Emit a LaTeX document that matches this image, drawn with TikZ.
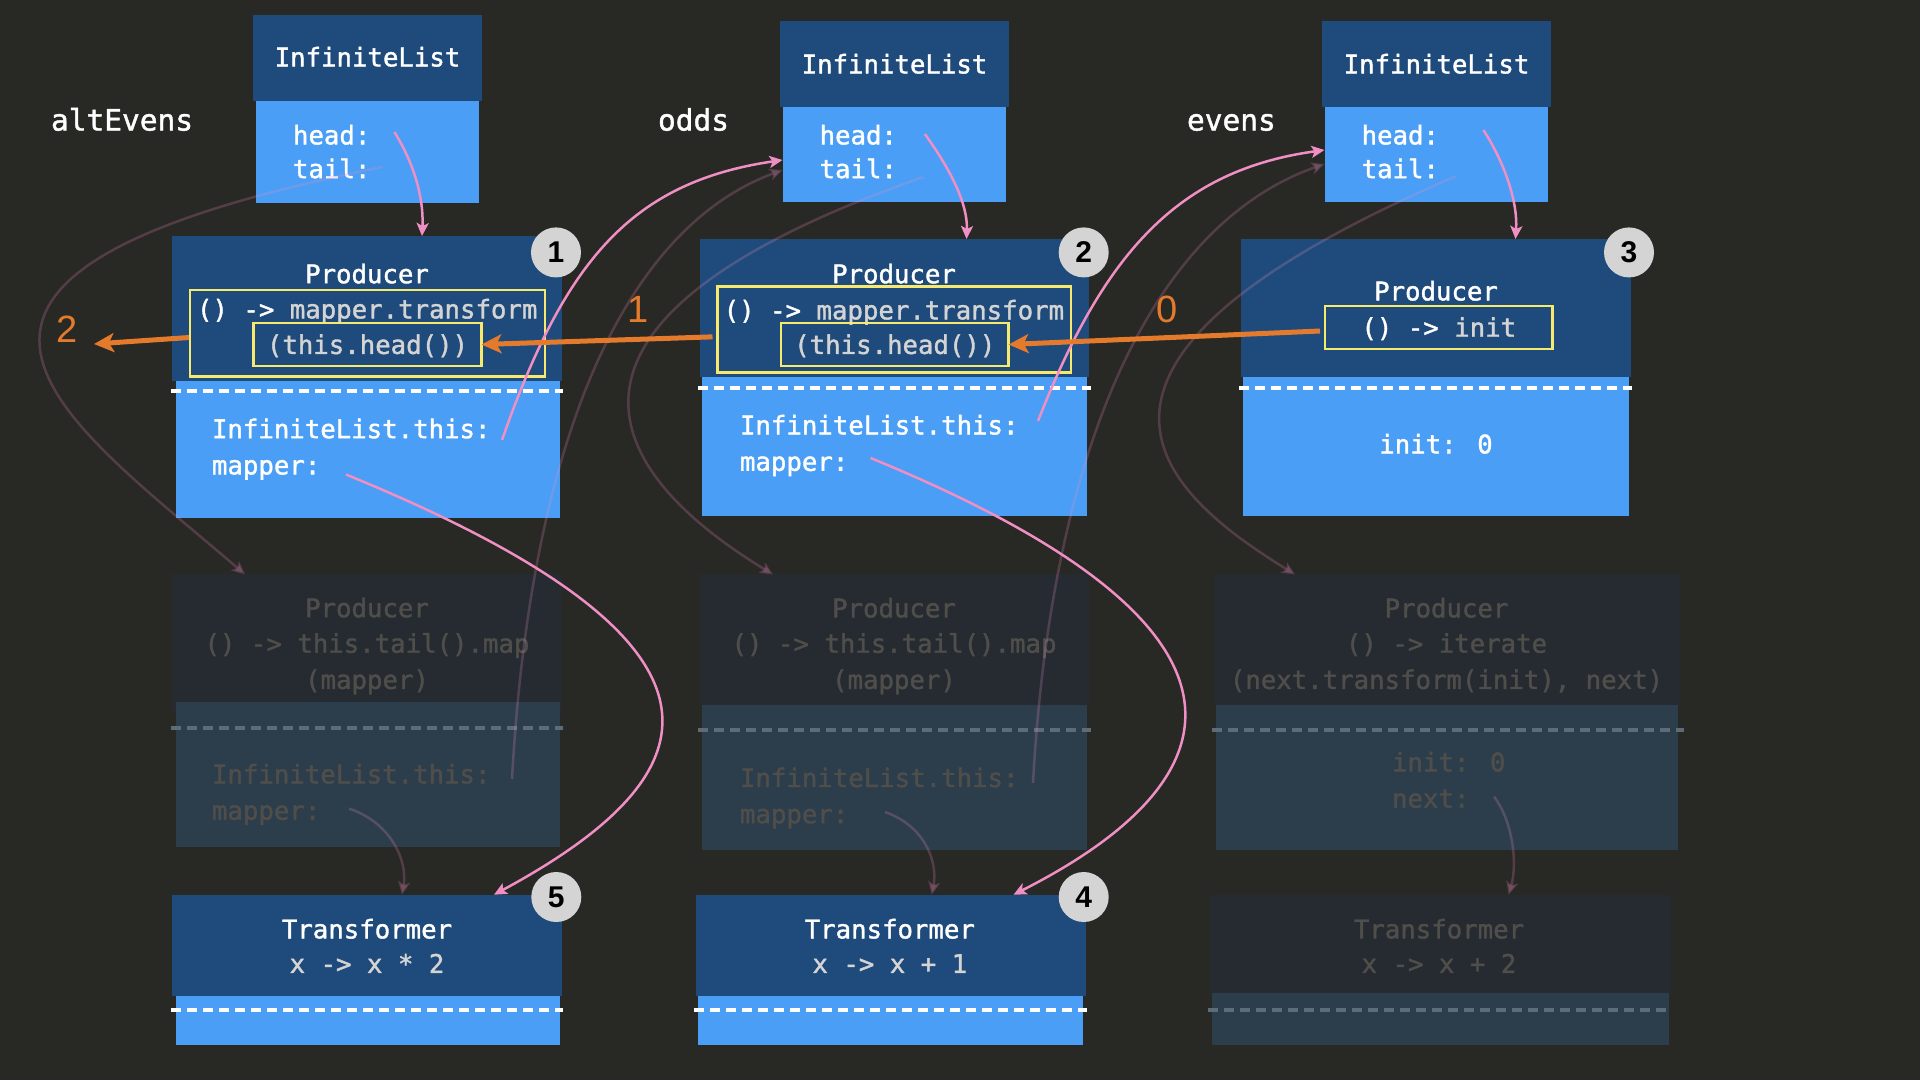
\documentclass[tikz,border=0pt]{standalone}
\usepackage{fontspec}
\setmainfont{DejaVu Sans Mono}[FakeBold=1.4]
\setmonofont{DejaVu Sans Mono}
\newfontfamily\digitfont{Liberation Sans}
\usetikzlibrary{arrows.meta,calc}
\definecolor{bg}{HTML}{282824}
\definecolor{dkblue}{HTML}{1E4B7B}
\definecolor{ltblue}{HTML}{4A9EF5}
\definecolor{yel}{HTML}{F6E96E}
\definecolor{oran}{HTML}{E47A2C}
\definecolor{pnk}{HTML}{EF8FC4}
\definecolor{codegrey}{HTML}{D4D4D4}
\definecolor{gdark}{HTML}{252B31}
\definecolor{glight}{HTML}{2C3D4B}
\definecolor{gtext}{HTML}{4F4E4A}
\definecolor{gdash}{HTML}{5E6C77}
\definecolor{badgec}{HTML}{D4D4D4}
\tikzset{
 every node/.style={inner sep=0pt, outer sep=0pt},
 dk/.style={fill=dkblue, anchor=north west},
 lt/.style={fill=ltblue, anchor=north west},
 gdk/.style={fill=gdark, anchor=north west},
 glt/.style={fill=glight, anchor=north west},
 ybox/.style={draw=yel, line width=2.5pt},
 ct/.style={font=\fontsize{25.7}{30}\selectfont, text height=18.8pt, text depth=0pt},
 wt/.style={ct, text=white},
 gt/.style={ct, text=codegrey},
 ght/.style={ct, text=gtext},
 lbl/.style={font=\fontsize{29.5}{34}\selectfont, text=white, anchor=base west},
 odig/.style={font=\digitfont\fontsize{38}{38}\selectfont, text=oran},
 badge/.style={circle, fill=badgec, minimum size=50pt, font=\digitfont\bfseries\fontsize{30}{30}\selectfont, text=black},
 sepw/.style={draw=white, line width=4pt, dash pattern=on 10pt off 6pt},
 sepg/.style={draw=gdash, line width=4pt, dash pattern=on 10pt off 6pt},
 pk/.style={draw=pnk, line width=2.5pt, -{Stealth[length=13pt,width=12pt,inset=3pt]}},
 dim/.style={pk, draw opacity=0.22, fill opacity=0.22},
 oa/.style={draw=oran, line width=5pt, -{Stealth[length=20pt,width=19pt,inset=5pt]}},
}
\begin{document}
\begin{tikzpicture}[x=1pt,y=-1pt]
\useasboundingbox (0,0) rectangle (1920,1080);
\fill[bg] (0,0) rectangle (1920,1080);

% ---------- boxes ----------
\node[dk, minimum width=229pt, minimum height=86pt] (IL1h) at (253,14.5) {};
\node[lt, minimum width=223.5pt, minimum height=102pt] (IL1b) at (255.5,100.5) {};
\node[dk, minimum width=229pt, minimum height=86pt] (IL2h) at (780,21) {};
\node[lt, minimum width=223.5pt, minimum height=95pt] (IL2b) at (782.5,107) {};
\node[dk, minimum width=229pt, minimum height=86pt] (IL3h) at (1322,21) {};
\node[lt, minimum width=223.5pt, minimum height=95pt] (IL3b) at (1324.5,107) {};

\node[dk, minimum width=390pt, minimum height=144.5pt] (P1d) at (172,236) {};
\node[lt, minimum width=384.5pt, minimum height=137.5pt] (P1l) at (175.5,380.5) {};
\node[dk, minimum width=389pt, minimum height=138pt] (P2d) at (700,239) {};
\node[lt, minimum width=385pt, minimum height=138.5pt] (P2l) at (702,377) {};
\node[dk, minimum width=390pt, minimum height=138pt] (P3d) at (1241,239) {};
\node[lt, minimum width=386pt, minimum height=138.5pt] (P3l) at (1243,377) {};

\node[gdk, minimum width=390pt, minimum height=136.6pt] (G1d) at (172,574.4) {};
\node[glt, minimum width=384.5pt, minimum height=144.5pt] (G1l) at (175.5,702) {};
\node[gdk, minimum width=389pt, minimum height=130.6pt] (G2d) at (700,574.4) {};
\node[glt, minimum width=385pt, minimum height=145pt] (G2l) at (702,705) {};
\node[gdk, minimum width=466.5pt, minimum height=130.6pt] (G3d) at (1213.5,574.4) {};
\node[glt, minimum width=462pt, minimum height=145pt] (G3l) at (1216,705) {};

\node[dk, minimum width=390pt, minimum height=101.6pt] (T1d) at (172,894.7) {};
\node[lt, minimum width=384.5pt, minimum height=48.7pt] (T1l) at (175.5,996.3) {};
\node[dk, minimum width=389.7pt, minimum height=101.6pt] (T2d) at (696,894.7) {};
\node[lt, minimum width=384.6pt, minimum height=48.7pt] (T2l) at (698.4,996.3) {};
\node[gdk, minimum width=461pt, minimum height=101.3pt] (T3d) at (1210,894.7) {};
\node[glt, minimum width=456.6pt, minimum height=52.2pt] (T3l) at (1212,992.8) {};

% ---------- separators ----------
\draw[sepw] (171,391) -- (563,391);
\draw[sepw] (698,388) -- (1091,388);
\draw[sepw] (1239,388) -- (1632,388);
\draw[sepg] (171,727.7) -- (563,727.7);
\draw[sepg] (698,730) -- (1091,730);
\draw[sepg] (1212,730) -- (1684,730);
\draw[sepw] (171,1010) -- (563,1010);
\draw[sepw] (694,1010) -- (1087,1010);
\draw[sepg] (1208,1010) -- (1668,1010);

% ---------- labels ----------
\node[lbl] (altEvens) at (51,130.5) {altEvens};
\node[lbl] (odds) at (658,130.5) {odds};
\node[lbl] (evens) at (1187,130.5) {evens};

% ---------- InfiniteList texts ----------
\node[wt] (IL1t) at (367.5,57) {InfiniteList};
\node[wt, anchor=west] (IL1hd) at (293,135) {head:};
\node[wt, anchor=west] (IL1tl) at (293,168.7) {tail:};
\node[wt] (IL2t) at (894.5,64) {InfiniteList};
\node[wt, anchor=west] (IL2hd) at (819.6,135) {head:};
\node[wt, anchor=west] (IL2tl) at (819.6,168.7) {tail:};
\node[wt] (IL3t) at (1436.5,64) {InfiniteList};
\node[wt, anchor=west] (IL3hd) at (1361.6,135) {head:};
\node[wt, anchor=west] (IL3tl) at (1361.6,168.7) {tail:};

% ---------- Producer 1 ----------
\node[wt] (P1t) at (367,273.8) {Producer};
\node[ybox, minimum width=355pt, minimum height=86.4pt] (P1y) at (367.5,333.2) {};
\node[gt, anchor=west] (P1c) at (197,309) {{\color{white}() ->} mapper.transform};
\node[ybox, gt, minimum width=228pt, minimum height=43pt] (P1in) at (367.5,344.5) {(this.head())};
\node[wt, anchor=west] (P1this) at (212,428.7) {InfiniteList.this:};
\node[wt, anchor=west] (P1map) at (212,465) {mapper:};

% ---------- Producer 2 ----------
\node[wt] (P2t) at (894,273.8) {Producer};
\node[ybox, minimum width=353.5pt, minimum height=86pt] (P2y) at (894.25,329.55) {};
\node[gt, anchor=west] (P2c) at (723.7,310) {{\color{white}() ->} mapper.transform};
\node[ybox, gt, minimum width=227.6pt, minimum height=43pt] (P2in) at (894.8,344.5) {(this.head())};
\node[wt, anchor=west] (P2this) at (740,425) {InfiniteList.this:};
\node[wt, anchor=west] (P2map) at (740,461.4) {mapper:};

% ---------- Producer 3 ----------
\node[wt] (P3t) at (1436,291) {Producer};
\node[ybox, gt, minimum width=227.6pt, minimum height=43pt] (P3y) at (1438.8,327.3) {{\color{white}() ->} init};
\node[wt] (P3init) at (1436,444) {init: 0};

% ---------- ghost producers ----------
\node[ght] (G1t) at (367,607.8) {Producer};
\node[ght] (G1c) at (367,643.3) {() -> this.tail().map};
\node[ght] (G1c2) at (367,679.5) {(mapper)};
\node[ght, anchor=west] (G1this) at (212,774) {InfiniteList.this:};
\node[ght, anchor=west] (G1map) at (212,810.3) {mapper:};

\node[ght] (G2t) at (894,608) {Producer};
\node[ght] (G2c) at (894,643.3) {() -> this.tail().map};
\node[ght] (G2c2) at (894,679.5) {(mapper)};
\node[ght, anchor=west] (G2this) at (740,777.6) {InfiniteList.this:};
\node[ght, anchor=west] (G2map) at (740,813.8) {mapper:};

\node[ght] (G3t) at (1446.5,608) {Producer};
\node[ght] (G3c) at (1446.5,643.3) {() -> iterate};
\node[ght] (G3c2) at (1446.5,679.5) {(next.transform(init), next)};
\node[ght, anchor=west] (G3init) at (1392,762) {init: 0};
\node[ght, anchor=west] (G3next) at (1392,798.3) {next:};

% ---------- transformers ----------
\node[wt] (T1t) at (367,929) {Transformer};
\node[gt] (T1f) at (367,963.5) {x -> x * 2};
\node[wt] (T2t) at (889.8,929) {Transformer};
\node[gt] (T2f) at (889.8,963.5) {x -> x + 1};
\node[ght] (T3t) at (1439,929) {Transformer};
\node[ght] (T3f) at (1439,963.5) {x -> x + 2};

% ---------- dim connectors ----------
\draw[dim] ($(IL1tl.east)+(12,-1.7)$) .. controls (-156,275) and (56,412) .. ($(G1d.north west)+(73,0)$);
\draw[dim] ($(IL2tl.east)+(26.4,8.3)$) .. controls (514,320) and (601,470) .. ($(G2d.north west)+(73,0)$);
\draw[dim] ($(IL3tl.east)+(17.4,7.3)$) .. controls (1021,363) and (1156,489) .. ($(G3d.north west)+(81.5,0)$);
\draw[dim] ($(G1this.east)+(21.5,5)$) .. controls (530,450) and (620,230) .. ($(IL2b.west)+(0,15.5)$);
\draw[dim] ($(G2this.east)+(14.5,5.4)$) .. controls (1051,453) and (1150,225) .. ($(IL3b.west)+(0,9.5)$);
\draw[dim] ($(G1map.east)+(28.7,-1.7)$) .. controls (390,822) and (408,860) .. ($(T1d.north west)+(230,0)$);
\draw[dim] ($(G2map.east)+(36.7,-1.8)$) .. controls (925,826) and (938,862) .. ($(T2d.north west)+(235.8,0)$);
\draw[dim] ($(G3next.east)+(24.6,-1.8)$) .. controls (1512,820) and (1518,862) .. ($(T3d.north west)+(298.6,0)$);

% ---------- pink connectors ----------
\draw[pk] ($(IL1hd.east)+(24,-3)$) .. controls (412,160) and (424,195) .. ($(P1d.north west)+(250,0)$);
\draw[pk] ($(IL2hd.east)+(27.9,-1)$) .. controls (945,162) and (968,200) .. ($(P2d.north west)+(266.5,0)$);
\draw[pk] ($(IL3hd.east)+(44.4,-5)$) .. controls (1503,160) and (1518,200) .. ($(P3d.north west)+(274.5,0)$);
\draw[pk] ($(P1this.east)+(11.5,11.3)$) .. controls (565,260) and (632,182) .. ($(IL2b.west)+(0,5.5)$);
\draw[pk] ($(P2this.east)+(19.5,-4)$) .. controls (1105,250) and (1180,170) .. ($(IL3b.west)+(0,-4.5)$);
\draw[pk] ($(P1map.east)+(25.7,9.5)$) .. controls (770,648) and (710,778) .. ($(T1d.north west)+(322,0)$);
\draw[pk] ($(P2map.east)+(22.3,-3.4)$) .. controls (1295,632) and (1232,784) .. ($(T2d.north west)+(317.5,0)$);

% ---------- orange arrows ----------
\coordinate (o2e) at (94,344);
\draw[oa] ($(P1y.west)+(-1,4.3)$) -- (o2e);
\draw[oa] ($(P2y.west)+(-5,7.3)$) -- (P1in.east);
\draw[oa] ($(P3y.west)+(-5,3.7)$) -- (P2in.east);
\node[odig] (n2) at (66.7,329.5) {2};
\node[odig] (n1) at (638.5,309.5) {1};
\node[odig] (n0) at (1166.7,309.5) {0};

% ---------- badges ----------
\node[badge] (b1) at (556,252.4) {1};
\node[badge] (b2) at (1083.7,252.4) {2};
\node[badge] (b3) at (1629,252.4) {3};
\node[badge] (b5) at (556.3,897) {5};
\node[badge] (b4) at (1083.7,897) {4};
\end{tikzpicture}
\end{document}
